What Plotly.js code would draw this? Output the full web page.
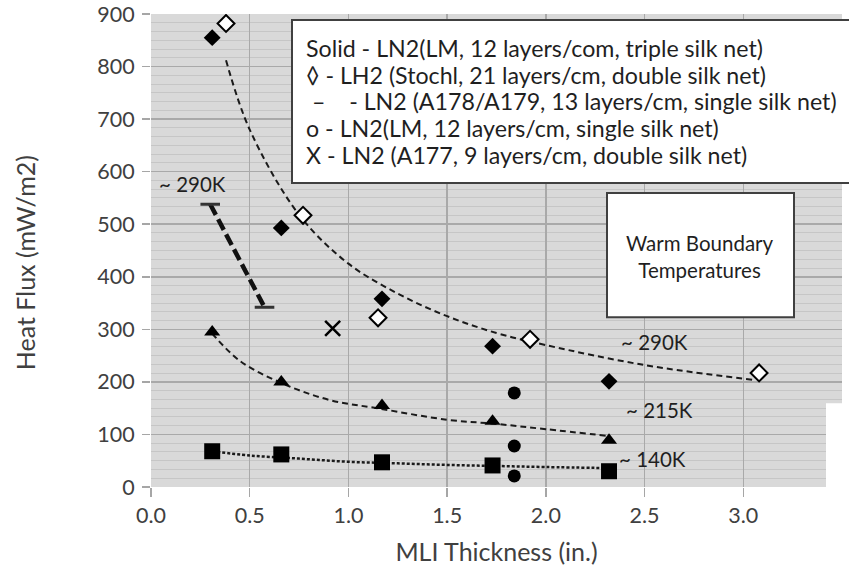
<!DOCTYPE html>
<html>
<head>
<meta charset="utf-8">
<script src="https://cdn.plot.ly/plotly-3.0.1.min.js"></script>
<style>html,body{margin:0;padding:0;background:#fff;}#chart{width:849px;height:575px;}</style>
</head>
<body>
<div id="chart"></div>
<script>
// ---- data ----
const xTickVals = [0, 0.5, 1.0, 1.5, 2.0, 2.5, 3.0];
const yTickVals = [0, 100, 200, 300, 400, 500, 600, 700, 800, 900];

// Solid diamonds - LN2 (LM, 12 layers/cm, triple silk net)
const solidDiamondX = [0.31, 0.66, 1.17, 1.73, 2.32];
const solidDiamondY = [855, 493, 358, 268, 201];
// Open diamonds - LH2 (Stochl)
const openDiamondX = [0.38, 0.77, 1.15, 1.92, 3.08];
const openDiamondY = [882, 517, 322, 281, 217];
// Dash - LN2 (A178/A179)
const a178X = [0.30, 0.575];
const a178Y = [538, 342];
// Circles - LN2 (LM, single silk net)
const circleX = [1.84, 1.84, 1.84];
const circleY = [179, 78, 21];
// X - LN2 (A177)
const a177X = [0.92];
const a177Y = [302];
// Triangles (~215K)
const triX = [0.31, 0.66, 1.17, 1.73, 2.32];
const triY = [295, 200, 155, 125, 89];
// Squares (~140K)
const sqX = [0.31, 0.66, 1.17, 1.73, 2.32];
const sqY = [68, 62, 47, 41, 30];

// Dashed trend curves
const trend290X = [0.38, 0.5, 0.75, 1.0, 1.25, 1.5, 1.75, 2.0, 2.5, 3.05];
const trend290Y = [812, 680, 518, 425, 368, 325, 293, 270, 232, 204];
const trend215X = [0.31, 0.45, 0.66, 0.9, 1.16, 1.5, 1.75, 2.0, 2.32];
const trend215Y = [292, 240, 198, 166, 149, 128, 120, 110, 97];
const trend140X = [0.31, 0.5, 0.75, 1.0, 1.25, 1.5, 1.75, 2.0, 2.32];
const trend140Y = [68, 60, 54, 48, 45, 42, 40, 38, 36];

const legendLines = [
  "Solid - LN2(LM, 12 layers/com, triple silk net)",
  "\u25CA - LH2 (Stochl, 21 layers/cm, double silk net)",
  "\u00A0\u2013\u00A0\u00A0\u00A0\u00A0- LN2 (A178/A179, 13 layers/cm, single silk net)",
  "o - LN2(LM, 12 layers/cm, single silk net)",
  "X - LN2 (A177, 9 layers/cm, double silk net)"
];
const boxText = "Warm Boundary<br>Temperatures";
const tempLabels = ["~ 290K", "~ 290K", "~ 215K", "~ 140K"];
const tempLabelX = [0.21, 2.55, 2.575, 2.54];
const tempLabelY = [577, 276, 146, 54];

// ---- layout helpers (pixel -> paper) ----
const W = 849, H = 575;
const M = {l: 151, r: 7, t: 14, b: 88.3};
const PW = W - M.l - M.r, PH = H - M.t - M.b;
const px = v => (v - M.l) / PW;
const py = v => (H - M.b - v) / PH;

const FONT = "Lato, 'Open Sans', sans-serif";
const black = "#000000";

const traces = [
  {x: trend290X, y: trend290Y, mode: "lines", line: {color: "#1a1a1a", width: 2, dash: "6px,4px", shape: "spline"}},
  {x: trend215X, y: trend215Y, mode: "lines", line: {color: "#1a1a1a", width: 2, dash: "6px,4px", shape: "spline"}},
  {x: trend140X, y: trend140Y, mode: "lines", line: {color: "#1a1a1a", width: 2.5, dash: "3px,2px", shape: "spline"}},
  {x: a178X, y: a178Y, mode: "lines+markers", line: {color: "#111", width: 4.5, dash: "12px,5px"},
   marker: {symbol: "line-ew-open", size: 14, color: "#333", line: {color: "#333", width: 3}}},
  {x: solidDiamondX, y: solidDiamondY, mode: "markers", marker: {symbol: "diamond", size: 13, color: black}},
  {x: openDiamondX, y: openDiamondY, mode: "markers", marker: {symbol: "diamond", size: 13, color: "#ffffff", line: {color: black, width: 2}}},
  {x: circleX, y: circleY, mode: "markers", marker: {symbol: "circle", size: 13, color: black}},
  {x: a177X, y: a177Y, mode: "markers", marker: {symbol: "x-thin-open", size: 15, color: black, line: {color: black, width: 2.5}}},
  {x: triX, y: triY, mode: "markers", marker: {symbol: "triangle-up", size: 14, color: black}},
  {x: sqX, y: sqY, mode: "markers", marker: {symbol: "square", size: 16, color: black}}
];

const legendYs = [48, 75, 101, 128, 155];
const annotations = legendLines.map((t, i) => ({
  xref: "paper", yref: "paper", x: px(304), y: py(legendYs[i]), xanchor: "left", yanchor: "middle", align: "left",
  text: t, showarrow: false, font: {family: FONT, size: 23.2, color: "#1f1f1f"}
}));
annotations.push({xref: "paper", yref: "paper", x: px(700), y: py(256), xanchor: "center", yanchor: "middle", align: "center",
  text: boxText, showarrow: false, font: {family: FONT, size: 20.5, color: "#1f1f1f"}});
tempLabels.forEach((t, i) => annotations.push({
  x: tempLabelX[i], y: tempLabelY[i], text: t, showarrow: false, font: {family: FONT, size: 20.5, color: "#1f1f1f"}
}));
// y-axis title placed as rotated annotation
annotations.push({xref: "paper", yref: "paper", x: px(25), y: py(263), xanchor: "center", yanchor: "middle",
  text: "Heat Flux (mW/m2)", textangle: -90, showarrow: false, font: {family: FONT, size: 25, color: "#404040"}});

const layout = {
  width: W, height: H,
  margin: M,
  showlegend: false,
  paper_bgcolor: "#ffffff",
  plot_bgcolor: "#d9d9d9",
  font: {family: FONT, color: "#404040", size: 20},
  xaxis: {
    range: [0, 3.5],
    tickvals: xTickVals,
    tickformat: ".1f",
    ticks: "outside", ticklen: 9, tickcolor: "#a6a6a6", tickwidth: 1.5,
    showgrid: true, gridcolor: "#a9a9a9", gridwidth: 1.5,
    zeroline: false, showline: false,
    ticklabeloverflow: "allow",
    tickfont: {family: FONT, size: 21.5, color: "#404040"},
    title: {text: "MLI Thickness (in.)", font: {family: FONT, size: 25, color: "#404040"}, standoff: 16}
  },
  yaxis: {
    range: [0, 900],
    tickvals: yTickVals,
    ticks: "outside", ticklen: 8, tickcolor: "#a6a6a6", tickwidth: 1.5,
    ticklabelstandoff: 3,
    ticklabeloverflow: "allow",
    showgrid: true, gridcolor: "#a9a9a9", gridwidth: 1.5,
    minor: {dtick: 100 / 6, showgrid: true, gridcolor: "#c6c6c6", gridwidth: 1},
    zeroline: false, showline: false,
    tickfont: {family: FONT, size: 21.5, color: "#404040"}
  },
  shapes: [
    {type: "rect", xref: "paper", yref: "paper", x0: px(826), x1: px(870), y0: py(510), y1: py(403),
     fillcolor: "#ffffff", line: {width: 0}, layer: "above"},
    {type: "rect", xref: "paper", yref: "paper", x0: px(292), x1: px(880), y0: py(183), y1: py(20),
     fillcolor: "#ffffff", line: {color: "#404040", width: 2}, layer: "above"},
    {type: "rect", xref: "paper", yref: "paper", x0: px(607), x1: px(794), y0: py(317), y1: py(193),
     fillcolor: "#ffffff", line: {color: "#404040", width: 2}, layer: "above"}
  ],
  annotations: annotations
};

Plotly.newPlot("chart", traces, layout, {staticPlot: true, displayModeBar: false});
</script>
</body>
</html>
